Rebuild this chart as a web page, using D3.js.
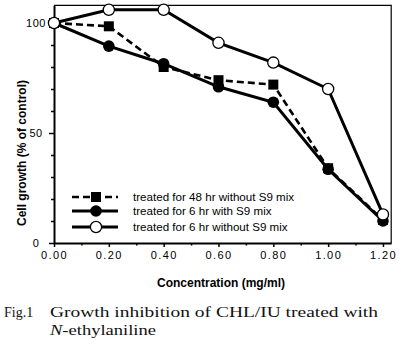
<!DOCTYPE html>
<html>
<head>
<meta charset="utf-8">
<script src="https://cdn.jsdelivr.net/npm/d3@7"></script>
<style>
  body { margin: 0; background: #fff; }
  svg { display: block; }
</style>
</head>
<body>
<svg id="svg"></svg>
<script>
// concentrations (mg/ml)
let concentrations = [0, 0.2, 0.4, 0.6, 0.8, 1.0, 1.2];

// cell growth, % of control
let growth48hNoS9 = [100, 98.5, 80, 74, 72, 34, 10.5];
let growth6hS9 = [100, 89.5, 81.5, 71, 64, 33.5, 10];
let growth6hNoS9 = [100, 106, 106, 91, 82, 70, 13];

let xTicks = [0, 0.2, 0.4, 0.6, 0.8, 1.0, 1.2];
let xMinorTicks = [0.1, 0.3, 0.5, 0.7, 0.9, 1.1];
let yTicks = [0, 50, 100];
let yMinorTicks = [10, 20, 30, 40, 60, 70, 80, 90];

let legendLabels = [
    "treated for 48 hr without S9 mix",
    "treated for 6 hr with S9 mix",
    "treated for 6 hr without S9 mix"
];

const width = 404;
const height = 347;

let svg = d3.select("#svg").attr("width", width).attr("height", height);

let xScale = d3.scaleLinear().domain([0, 1.23]).range([54, 391.2]);
let yScale = d3.scaleLinear().domain([0, 108]).range([243, 5.4]);

const tickFont = "'Liberation Sans', Arial, sans-serif";

// frame (thin top and right)
svg.append("path")
    .attr("d", `M${xScale(0)},${yScale(108)}H${xScale(1.23)}V${yScale(0)}`)
    .attr("fill", "none")
    .attr("stroke", "#000")
    .attr("stroke-width", 1.2);

// x axis
let xAxis = svg.append("g")
    .attr("transform", `translate(0,${yScale(0)})`)
    .call(d3.axisBottom(xScale).tickValues(xTicks).tickSize(4).tickSizeOuter(0)
        .tickFormat(d3.format(".2f")));
svg.append("g")
    .attr("transform", `translate(0,${yScale(0)})`)
    .call(d3.axisBottom(xScale).tickValues(xMinorTicks).tickSize(2.5).tickFormat(""))
    .select(".domain").remove();

// y axis
let yAxis = svg.append("g")
    .attr("transform", `translate(${xScale(0)},0)`)
    .call(d3.axisLeft(yScale).tickValues(yTicks).tickSize(5).tickSizeOuter(0)
        .tickFormat(d3.format("d")));
svg.append("g")
    .attr("transform", `translate(${xScale(0)},0)`)
    .call(d3.axisLeft(yScale).tickValues(yMinorTicks).tickSize(3).tickFormat(""))
    .select(".domain").remove();

svg.selectAll(".domain").attr("stroke-width", 2);
svg.selectAll(".tick line").attr("stroke-width", 1.5);

xAxis.selectAll("text")
    .attr("y", 8)
    .style("font-family", tickFont)
    .style("font-size", "11px")
    .style("letter-spacing", "1.4px")
    .attr("fill", "#000");

yAxis.selectAll("text")
    .attr("x", -18)
    .attr("text-anchor", "middle")
    .style("font-family", tickFont)
    .style("font-size", "11px")
    .style("letter-spacing", "0.5px")
    .attr("fill", "#000");

// axis titles
svg.append("text")
    .attr("x", 221)
    .attr("y", 287)
    .attr("text-anchor", "middle")
    .style("font-family", tickFont)
    .style("font-size", "12px")
    .style("font-weight", "bold")
    .text("Concentration (mg/ml)");

svg.append("text")
    .attr("transform", "translate(26,153) rotate(-90)")
    .attr("text-anchor", "middle")
    .style("font-family", tickFont)
    .style("font-size", "12px")
    .style("font-weight", "bold")
    .text("Cell growth (% of control)");

// series
let line = d3.line()
    .x((d, i) => xScale(concentrations[i]))
    .y(d => yScale(d));

function drawSeries(values, dash, marker) {
    svg.append("path")
        .datum(values)
        .attr("d", line)
        .attr("fill", "none")
        .attr("stroke", "#000")
        .attr("stroke-width", dash ? 2.6 : 3)
        .attr("stroke-dasharray", dash ? "7,4" : null);

    let g = svg.append("g");
    values.forEach((v, i) => {
        drawMarker(g, xScale(concentrations[i]), yScale(v), marker);
    });
}

function drawMarker(g, x, y, marker) {
    if (marker === "square") {
        g.append("rect")
            .attr("x", x - 5).attr("y", y - 5)
            .attr("width", 10).attr("height", 10)
            .attr("fill", "#000");
    } else if (marker === "filled") {
        g.append("circle")
            .attr("cx", x).attr("cy", y).attr("r", 5.8)
            .attr("fill", "#000");
    } else {
        g.append("circle")
            .attr("cx", x).attr("cy", y).attr("r", 5.6)
            .attr("fill", "#fff")
            .attr("stroke", "#000")
            .attr("stroke-width", 1.3);
    }
}

drawSeries(growth48hNoS9, true, "square");
drawSeries(growth6hS9, false, "filled");
drawSeries(growth6hNoS9, false, "open");

// legend
let legendRows = [
    { y: 197, dash: true, marker: "square" },
    { y: 211, dash: false, marker: "filled" },
    { y: 227, dash: false, marker: "open" }
];
legendRows.forEach((r, i) => {
    svg.append("line")
        .attr("x1", 72).attr("x2", 118)
        .attr("y1", r.y).attr("y2", r.y)
        .attr("stroke", "#000")
        .attr("stroke-width", r.dash ? 2.6 : 3)
        .attr("stroke-dasharray", r.dash ? "7,4" : null);
    drawMarker(svg, 96, r.y, r.marker);
    svg.append("text")
        .attr("x", 133)
        .attr("y", r.y + 4)
        .style("font-family", tickFont)
        .style("font-size", "11.6px")
        .text(legendLabels[i]);
});

// caption
const capFont = "'Liberation Serif', 'Times New Roman', serif";
function caption(x, y) {
    return svg.append("text")
        .attr("x", x).attr("y", y)
        .attr("fill", "#111")
        .style("font-family", capFont)
        .style("font-size", "15px");
}
caption(4, 317).style("font-size", "14px").text("Fig.1");
caption(50, 317)
    .attr("textLength", 328)
    .attr("lengthAdjust", "spacingAndGlyphs")
    .text("Growth inhibition of CHL/IU treated with");
let cap2 = caption(50, 335)
    .attr("textLength", 106)
    .attr("lengthAdjust", "spacingAndGlyphs");
cap2.append("tspan").style("font-style", "italic").text("N");
cap2.append("tspan").text("-ethylaniline");
</script>
</body>
</html>
